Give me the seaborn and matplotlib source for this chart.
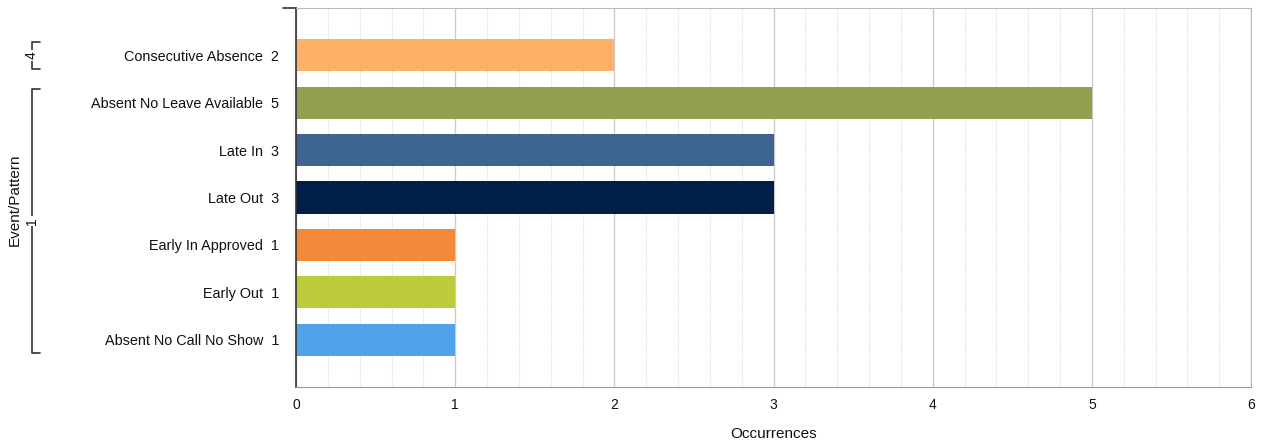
import pandas as pd
import matplotlib
matplotlib.use("Agg")
import matplotlib.pyplot as plt
import matplotlib.transforms as mtransforms
from matplotlib.ticker import MultipleLocator
import seaborn as sns

# chart data
categories = ["Consecutive Absence", "Absent No Leave Available", "Late In", "Late Out",
              "Early In Approved", "Early Out", "Absent No Call No Show"]
occurrences = [2, 5, 3, 3, 1, 1, 1]
colors = ["#FDB066", "#94A050", "#3D6590", "#001E47", "#F38A3B", "#BCCC3C", "#50A3EB"]
# groups of rows shown as brackets on the left (label, first row, last row)
groups = [("4", 0, 0), ("1", 1, 6)]

df = pd.DataFrame({"cat": categories, "n": occurrences})

sns.set_style("white")
plt.rcParams["font.family"] = ["Liberation Sans", "DejaVu Sans"]

fig = plt.figure(figsize=(12.61, 4.43), dpi=100)
ax = fig.add_axes([296 / 1261, 1 - 387 / 443, 955 / 1261, 379 / 443])

sns.barplot(data=df, y="cat", x="n", hue="cat", palette=colors, orient="h",
            width=0.68, legend=False, ax=ax, saturation=1, linewidth=0)

ax.set_xlim(0, 6)
ax.set_ylim(7, -1)
ax.xaxis.set_major_locator(MultipleLocator(1))
ax.xaxis.set_minor_locator(MultipleLocator(0.2))
ax.grid(axis="x", which="major", color="#cccccc", linewidth=1)
ax.grid(axis="x", which="minor", color="#dddddd", linewidth=0.8, linestyle=(0, (1, 1)))
ax.set_axisbelow(True)

ax.set_yticks(range(len(categories)))
ax.set_yticklabels([f"{c}  {n}" for c, n in zip(categories, occurrences)], fontsize=10.4)
ax.tick_params(axis="y", length=9, width=1, color="#333333", pad=3, labelcolor="#111111")
ax.tick_params(axis="x", which="major", length=3, color="#bbbbbb", labelsize=10,
               labelcolor="#111111", pad=5)
ax.tick_params(axis="x", which="minor", length=0)

for side in ["top", "right"]:
    ax.spines[side].set_visible(True)
    ax.spines[side].set_color("#bbbbbb")
ax.spines["bottom"].set_color("#999999")
ax.spines["left"].set_color("#333333")
ax.spines["left"].set_linewidth(1.2)
ax.plot([-0.0136, 0], [1, 1], transform=ax.transAxes, clip_on=False,
        color="#333333", linewidth=1.2)

ax.set_xlabel("Occurrences", fontsize=11, color="#111111", labelpad=11)
ax.set_ylabel("")
fig.text(15 / 1261, 1 - 200 / 443, "Event/Pattern", rotation=90, fontsize=11,
         color="#111111", ha="center", va="center")

# group brackets
tr = mtransforms.blended_transform_factory(fig.transFigure, ax.transData)
bx = 32 / 1261
stub = 8 / 1261
for lab, a, b in groups:
    y0, y1 = a - 0.29, b + 0.29
    ax.plot([bx + stub, bx, bx, bx + stub], [y0, y0, y1, y1], transform=tr,
            clip_on=False, color="#333333", linewidth=1.2)
    ax.text(bx, (y0 + y1) / 2, lab, transform=tr, rotation=90, fontsize=10,
            ha="center", va="center", color="#111111",
            bbox=dict(facecolor="white", edgecolor="none", pad=1))

fig.savefig("out.png", dpi=100)
